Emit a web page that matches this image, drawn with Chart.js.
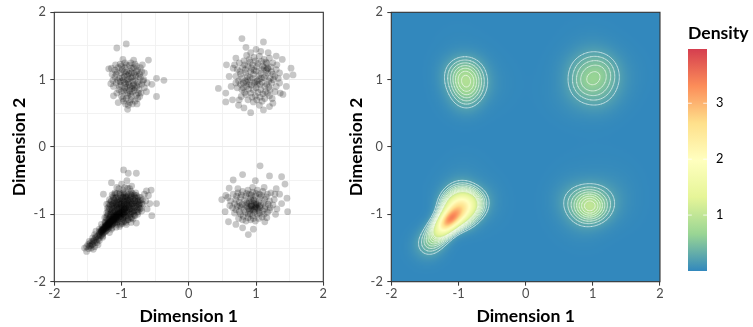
<!DOCTYPE html>
<html><head><meta charset="utf-8">
<script src="https://cdn.jsdelivr.net/npm/chart.js@4.4.1/dist/chart.umd.min.js"></script>
<style>
html,body{margin:0;padding:0;background:#fff;width:753px;height:327px;overflow:hidden}
#c1{position:absolute;left:0;top:0}
#c2{position:absolute;left:337px;top:0}
</style></head><body>
<canvas id="c1" width="337" height="327"></canvas>
<canvas id="c2" width="416" height="327"></canvas>
<script>
// ---------- data ----------
const axisTicks = [-2, -1, 0, 1, 2];
const legendTicks = [1, 2, 3];
const colorLimits = [0, 3.97];
const spectralPalette = ['#3288BD','#99D594','#E6F598','#FFFFBF','#FEE08B','#FC8D59','#D53E4F'];
const contourLevels = [0.22, 0.32, 0.42, 0.52, 0.62, 0.72, 0.82, 0.92, 1.02];

const clusterUL = [[-0.93,1.53],[-1.07,1.47],[-0.60,1.29],[-0.48,1.02],[-0.37,0.99],[-0.48,0.75],[-0.91,0.56],[-0.77,0.64],[-1.12,0.76],[-1.15,1.17],
[-1.09,1.22],[-0.55,0.93],[-0.63,0.82],[-1.19,1.16],[-0.69,1.22],[-0.66,1.10],[-1.05,0.66],[-1.02,1.23],[-0.95,1.25],[-0.88,1.21],
[-0.82,1.18],[-0.76,1.14],[-1.06,1.12],[-0.99,1.15],[-0.92,1.12],[-0.85,1.10],[-0.79,1.06],[-0.72,1.03],[-1.10,1.04],[-1.03,1.02],
[-0.96,1.05],[-0.89,1.01],[-0.83,0.98],[-0.76,0.96],[-0.70,0.93],[-1.08,0.95],[-1.01,0.92],[-0.94,0.94],[-0.87,0.90],[-0.80,0.88],
[-0.74,0.85],[-1.04,0.85],[-0.97,0.83],[-0.91,0.80],[-0.84,0.82],[-0.78,0.77],[-1.00,0.75],[-0.93,0.72],[-0.86,0.70],[-0.80,0.68],
[-0.90,0.62],[-1.12,0.90],[-1.13,0.99],[-0.68,0.98],[-0.73,0.75],[-0.95,1.18],[-0.86,1.25],[-0.80,1.23],[-0.91,1.06],[-0.84,1.04],
[-0.98,0.99],[-0.90,0.96],[-0.82,0.93],[-0.95,0.88],[-0.88,0.84],[-1.05,1.18],[-0.78,1.12],[-0.72,1.18],[-1.14,1.08],[-0.76,0.72],
[-0.97,0.68],[-0.84,0.64],[-0.66,0.88],[-0.73,1.08],
[-1.00,1.20],[-0.93,1.22],[-0.85,1.17],[-0.78,1.20],[-1.08,1.08],[-1.01,1.10],[-0.94,1.08],[-0.87,1.13],[-0.81,1.09],[-0.75,1.05],
[-1.06,0.99],[-0.99,1.03],[-0.92,0.99],[-0.86,1.03],[-0.80,0.99],[-0.74,0.93],[-1.03,0.90],[-0.96,0.96],[-0.89,0.93],[-0.83,0.91],
[-0.77,0.90],[-1.07,0.80],[-1.00,0.82],[-0.94,0.85],[-0.87,0.79],[-0.81,0.84],[-0.75,0.80],[-0.98,0.72],[-0.91,0.76],[-0.85,0.75],
[-0.88,0.66],[-0.94,0.64],[-1.10,1.14],[-0.70,1.12],[-0.67,1.00],[-1.16,0.94],[-0.82,1.29],[-0.98,1.30],[-0.62,0.95],[-0.71,0.80],
[-0.89,1.09],[-0.96,1.12],[-0.84,0.87],[-0.92,0.89],[-1.02,0.97]];

const clusterUR = [[0.79,1.61],[1.11,1.56],[1.00,1.45],[0.85,1.48],[0.56,1.22],[0.66,1.17],[0.44,0.87],[0.55,0.67],[0.55,0.80],[0.65,0.70],
[0.74,0.62],[0.92,0.51],[1.11,0.55],[1.20,0.60],[1.25,0.65],[1.36,0.80],[1.40,0.78],[1.55,1.07],[1.52,1.17],[1.39,1.30],
[1.45,1.05],[1.30,1.35],[0.70,1.32],[0.60,1.05],[1.35,0.95],[0.82,0.58],[1.05,0.62],[1.45,0.90],
[0.75,1.25],[0.82,1.28],[0.90,1.30],[0.97,1.33],[1.05,1.35],[1.12,1.30],[1.20,1.32],[1.25,1.25],[0.72,1.15],[0.80,1.18],
[0.88,1.20],[0.95,1.22],[1.03,1.24],[1.10,1.20],[1.17,1.17],[1.23,1.12],[1.30,1.15],[0.70,1.05],[0.77,1.08],[0.85,1.10],
[0.92,1.12],[1.00,1.13],[1.07,1.10],[1.14,1.06],[1.21,1.02],[1.28,1.05],[0.74,0.98],[0.81,0.95],[0.88,1.00],[0.95,1.02],
[1.02,0.98],[1.09,0.96],[1.16,0.93],[1.23,0.95],[1.30,0.90],[0.72,0.88],[0.79,0.85],[0.86,0.90],[0.93,0.92],[1.00,0.88],
[1.07,0.85],[1.14,0.82],[1.21,0.85],[0.78,0.75],[0.85,0.78],[0.92,0.80],[0.99,0.76],[1.06,0.74],[1.13,0.72],[1.20,0.76],
[0.88,0.70],[0.96,0.67],[1.28,0.82],[1.18,1.40],[0.92,1.40],[1.15,1.14],[1.18,1.16],[0.86,0.96],[0.90,0.93],[1.02,0.93],
[0.97,0.95],[1.08,1.02],[1.12,1.18],
[0.83,1.22],[0.91,1.26],[0.99,1.28],[1.08,1.27],[1.16,1.24],[1.22,1.19],[0.76,1.12],[0.84,1.15],[0.93,1.17],[1.01,1.19],
[1.09,1.15],[1.17,1.10],[1.25,1.08],[0.79,1.02],[0.87,1.05],[0.96,1.08],[1.04,1.06],[1.12,1.03],[1.19,0.98],[1.26,1.00],
[0.77,0.93],[0.84,0.98],[0.91,1.03],[0.99,0.97],[1.06,0.93],[1.13,0.90],[1.19,0.89],[0.81,0.88],[0.89,0.86],[0.96,0.85],
[1.03,0.81],[1.10,0.79],[1.17,0.80],[0.83,0.81],[0.94,0.74],[1.01,0.70],[1.09,0.68],[0.70,0.95],[1.33,1.02],[1.31,1.22],
[0.68,1.22],[1.07,1.42],[0.86,1.36],[1.24,0.72],[0.75,0.70],[1.35,1.10],[0.63,0.90],[1.15,1.26],[0.97,1.14],[1.05,1.01]];

const clusterLR = [[1.06,-0.28],[0.80,-0.41],[0.66,-0.49],[1.20,-0.43],[1.38,-0.44],[1.43,-0.55],[0.60,-0.61],[0.49,-0.78],[0.59,-1.11],[0.885,-1.30],
[0.96,-1.22],[1.13,-1.11],[1.46,-0.76],[1.47,-0.96],[1.38,-0.84],[1.29,-1.00],[0.54,-0.96],[0.99,-0.50],[1.30,-0.62],[0.55,-0.72],
[0.70,-1.15],[0.80,-1.20],[1.22,-0.68],[1.35,-0.70],
[0.66,-0.70],[0.73,-0.68],[0.80,-0.66],[0.88,-0.64],[0.95,-0.67],[1.02,-0.64],[1.10,-0.66],[1.17,-0.70],[0.62,-0.80],[0.70,-0.78],
[0.77,-0.75],[0.85,-0.73],[0.92,-0.76],[0.99,-0.73],[1.06,-0.75],[1.13,-0.78],[1.20,-0.80],[1.27,-0.78],[0.65,-0.90],[0.72,-0.88],
[0.79,-0.85],[0.86,-0.83],[0.93,-0.86],[1.00,-0.83],[1.07,-0.86],[1.14,-0.88],[1.21,-0.90],[0.68,-0.98],[0.75,-0.96],[0.82,-0.93],
[0.89,-0.91],[0.96,-0.94],[1.03,-0.91],[1.10,-0.95],[1.17,-0.97],[0.74,-1.06],[0.81,-1.03],[0.88,-1.00],[0.95,-1.02],[1.02,-1.00],
[1.09,-1.04],[0.85,-1.10],[0.92,-1.08],[0.99,-1.10],[0.93,-0.80],[0.97,-0.88],[1.04,-0.95],[0.90,-0.95],[0.96,-0.78],[1.01,-0.90],
[0.87,-0.89],[0.76,-0.87],[0.90,-0.70],[1.05,-0.70],[0.94,-0.88],[0.98,-0.92],[1.00,-0.86],[0.92,-0.92],[1.05,-0.88],[0.97,-0.84],
[0.71,-0.73],[0.78,-0.71],[0.86,-0.69],[0.93,-0.71],[1.00,-0.69],[1.08,-0.72],[1.15,-0.74],[0.68,-0.84],[0.75,-0.82],[0.83,-0.79],
[0.90,-0.81],[0.97,-0.79],[1.04,-0.81],[1.11,-0.83],[1.18,-0.85],[1.25,-0.86],[0.70,-0.93],[0.78,-0.90],[0.85,-0.87],[0.92,-0.88],
[0.99,-0.89],[1.06,-0.90],[1.13,-0.92],[1.20,-0.94],[0.77,-1.00],[0.84,-0.97],[0.91,-0.99],[0.98,-0.97],[1.05,-0.98],[1.12,-1.00],
[0.80,-1.08],[0.88,-1.05],[0.96,-1.06],[1.04,-1.06],[0.61,-0.87],[1.31,-0.92],[1.28,-0.70],[0.58,-0.75],[1.16,-1.05],[0.73,-0.62],
[0.95,-0.60],[1.12,-0.60],[0.94,-0.93],[1.02,-0.85],[0.88,-0.84]];

const clusterLL = [[-1.55,-1.50],[-1.52,-1.48],[-1.50,-1.45],[-1.49,-1.51],[-1.47,-1.43],[-1.46,-1.47],[-1.44,-1.40],[-1.43,-1.44],[-1.41,-1.38],[-1.40,-1.42],
[-1.39,-1.35],[-1.38,-1.39],[-1.36,-1.33],[-1.35,-1.37],[-1.34,-1.30],[-1.33,-1.35],[-1.32,-1.28],[-1.31,-1.32],[-1.30,-1.26],[-1.29,-1.30],
[-1.28,-1.24],[-1.27,-1.28],[-1.26,-1.22],[-1.25,-1.26],[-1.24,-1.20],[-1.23,-1.24],[-1.22,-1.18],[-1.21,-1.22],[-1.20,-1.16],[-1.19,-1.20],
[-1.18,-1.14],[-1.17,-1.18],[-1.16,-1.12],[-1.15,-1.16],[-1.14,-1.10],[-1.13,-1.14],[-1.12,-1.08],[-1.11,-1.12],[-1.10,-1.06],[-1.09,-1.10],
[-1.08,-1.04],[-1.07,-1.08],[-1.06,-1.02],[-1.05,-1.06],[-1.04,-1.00],[-1.03,-1.04],[-1.02,-0.98],[-1.01,-1.02],[-1.00,-0.96],[-0.99,-1.00],
[-0.98,-0.94],[-0.97,-0.98],[-0.96,-0.92],[-0.95,-0.96],[-0.94,-0.90],[-0.93,-0.94],[-0.92,-0.88],
[-1.12,-1.06],[-1.10,-1.04],[-1.08,-1.02],[-1.06,-1.00],[-1.04,-0.98],[-1.13,-1.09],[-1.11,-1.07],[-1.09,-1.05],[-1.07,-1.03],[-1.05,-1.01],
[-1.03,-0.99],[-1.15,-1.10],[-1.17,-1.12],[-1.19,-1.15],[-1.21,-1.16],[-1.23,-1.19],[-1.02,-1.00],[-1.00,-0.98],[-0.98,-0.97],
[-1.25,-1.05],[-1.20,-1.00],[-1.18,-0.92],[-1.22,-0.85],[-1.27,-0.70],[-1.15,-0.80],[-1.12,-0.88],[-1.10,-0.95],[-1.08,-0.85],[-1.05,-0.78],
[-1.03,-0.90],[-1.00,-0.85],[-0.98,-0.75],[-0.97,-0.88],[-0.95,-0.80],[-0.93,-0.70],[-0.92,-0.85],[-0.90,-0.78],[-0.88,-0.92],[-0.86,-0.82],
[-0.85,-0.72],[-0.83,-0.88],[-0.82,-0.95],[-0.80,-0.80],[-0.79,-0.68],[-0.77,-0.90],[-0.76,-1.00],[-0.74,-0.85],[-0.72,-0.75],[-0.70,-0.95],
[-0.68,-0.85],[-0.66,-0.70],[-0.63,-0.65],[-0.56,-0.64],[-0.58,-0.84],[-0.48,-0.84],[-0.55,-1.02],[-0.62,-0.92],[-0.78,-1.13],[-0.85,-1.05],
[-0.90,-1.08],[-0.95,-1.10],[-1.00,-1.12],[-1.07,-1.15],[-1.15,-1.22],[-1.28,-1.32],[-1.35,-1.45],[-1.42,-1.52],[-1.48,-1.40],[-1.40,-1.30],
[-1.33,-1.22],[-1.30,-1.15],[-1.38,-1.25],[-1.43,-1.35],[-1.52,-1.55],[-1.45,-1.50],[-0.97,-0.34],[-0.90,-0.39],[-0.78,-0.39],[-1.15,-0.53],
[-1.07,-0.60],[-1.00,-0.55],[-0.95,-0.60],[-0.88,-0.62],[-1.02,-0.68],[-0.92,-0.50],[-1.10,-0.70],[-0.85,-0.58],[-1.07,-0.89],[-0.98,-1.05],
[-0.94,-1.02],[-0.89,-0.98],[-0.84,-0.96],[-0.80,-1.02],[-0.86,-1.12],[-0.93,-1.15],[-1.03,-1.18],[-1.12,-0.98],[-1.16,-1.02],[-1.20,-1.08],
[-1.24,-1.12],[-1.18,-1.05],[-1.14,-0.95],[-1.06,-0.92],[-1.01,-0.88],[-0.96,-0.84],[-0.91,-0.80],[-0.87,-0.76],[-1.04,-0.82],[-0.99,-0.79],
[-0.94,-0.74],[-1.09,-0.76],[-1.13,-0.84],[-0.89,-0.88],[-0.84,-0.84],[-0.96,-0.92],[-0.92,-0.96],[-1.00,-0.92],[-0.81,-0.74],[-0.75,-0.80],
[-0.73,-0.92],[-0.69,-0.78],[-0.64,-0.80],[-0.60,-0.72],
[-1.04,-0.62],[-0.98,-0.64],[-0.91,-0.61],[-0.86,-0.66],
[-1.14,-0.71],[-1.07,-0.69],[-1.01,-0.72],[-0.96,-0.70],[-0.90,-0.71],[-0.84,-0.69],[-0.78,-0.72],
[-1.18,-0.78],[-1.12,-0.76],[-1.06,-0.79],[-1.00,-0.77],[-0.95,-0.76],[-0.89,-0.79],[-0.83,-0.77],[-0.77,-0.76],[-0.72,-0.79],
[-1.19,-0.84],[-1.14,-0.86],[-1.09,-0.83],[-1.04,-0.85],[-0.99,-0.83],[-0.94,-0.86],[-0.89,-0.83],[-0.84,-0.85],[-0.79,-0.83],[-0.74,-0.86],[-0.70,-0.84],
[-1.21,-0.91],[-1.16,-0.93],[-1.11,-0.90],[-1.06,-0.92],[-1.01,-0.90],[-0.96,-0.93],[-0.91,-0.90],[-0.86,-0.92],[-0.81,-0.90],[-0.76,-0.93],[-0.71,-0.91],
[-1.22,-0.98],[-1.17,-1.00],[-1.12,-0.97],[-1.07,-0.99],[-1.02,-0.97],[-0.97,-1.00],[-0.92,-0.98],[-0.87,-1.00],[-0.82,-0.98],[-0.77,-0.97],
[-1.23,-1.05],[-1.18,-1.07],[-1.13,-1.04],[-1.08,-1.06],[-1.03,-1.04],[-0.98,-1.07],[-0.93,-1.05],[-0.88,-1.04],[-0.83,-1.07],
[-1.25,-1.12],[-1.20,-1.14],[-1.15,-1.11],[-1.10,-1.13],[-1.05,-1.11],[-0.99,-1.14],[-0.94,-1.12],
[-1.29,-1.19],[-1.24,-1.21],[-1.19,-1.18],[-1.14,-1.20],[-1.08,-1.19],
[-1.33,-1.26],[-1.28,-1.28],[-1.23,-1.25],[-1.18,-1.27],
[-1.38,-1.33],[-1.33,-1.31],[-1.28,-1.34],[-1.42,-1.40],[-1.37,-1.42],[-1.33,-1.39],[-1.48,-1.47],[-1.44,-1.45],[-1.40,-1.48],
[-1.24,-1.17],[-1.22,-1.15],[-1.20,-1.13],[-1.18,-1.11],[-1.16,-1.09],[-1.14,-1.07],[-1.12,-1.05],[-1.10,-1.03],[-1.08,-1.01],[-1.06,-0.99],
[-1.21,-1.19],[-1.19,-1.17],[-1.17,-1.15],[-1.15,-1.13],[-1.13,-1.11],[-1.11,-1.09],[-1.09,-1.07],[-1.07,-1.05],
[-1.28,-1.22],[-1.26,-1.20],[-1.30,-1.24],[-1.27,-1.23],
[-1.31,-1.25],[-1.29,-1.23],[-1.27,-1.21],[-1.25,-1.19],[-1.23,-1.17],[-1.21,-1.15],[-1.19,-1.13],[-1.17,-1.11],[-1.15,-1.09],[-1.13,-1.07],
[-1.30,-1.26],[-1.28,-1.24],[-1.26,-1.22],[-1.24,-1.18],[-1.22,-1.16],[-1.20,-1.15],[-1.18,-1.13],[-1.16,-1.10],[-1.14,-1.08],[-1.12,-1.07],
[-1.10,-0.68],[-1.03,-0.70],[-0.97,-0.68],[-0.93,-0.73],[-0.87,-0.70],[-0.81,-0.71],
[-1.13,-0.74],[-1.08,-0.75],[-1.03,-0.76],[-0.98,-0.74],[-0.92,-0.75],[-0.86,-0.74],[-0.80,-0.76],[-0.75,-0.74],
[-1.16,-0.81],[-1.11,-0.79],[-1.06,-0.81],[-1.01,-0.80],[-0.96,-0.81],[-0.91,-0.79],[-0.86,-0.80],[-0.81,-0.80],[-0.76,-0.81],
[-1.17,-0.86],[-1.12,-0.84],[-1.07,-0.86],[-1.02,-0.84],[-0.97,-0.85],[-0.92,-0.84],[-0.87,-0.86],[-0.82,-0.84],[-0.77,-0.85],[-0.73,-0.83],
[-1.19,-0.89],[-1.14,-0.91],[-1.09,-0.88],[-1.04,-0.91],[-0.99,-0.89],[-0.94,-0.91],[-0.89,-0.89],[-0.84,-0.91],[-0.79,-0.88],[-0.74,-0.90],
[-1.20,-0.95],[-1.15,-0.97],[-1.10,-0.94],[-1.05,-0.96],[-1.00,-0.94],[-0.95,-0.97],[-0.90,-0.94],[-0.85,-0.96],[-0.80,-0.94],[-0.75,-0.96],
[-1.21,-1.02],[-1.16,-0.99],[-1.11,-1.01],[-1.06,-0.98],[-1.01,-1.03],[-0.96,-1.01],[-0.91,-1.02],[-0.86,-0.99],[-0.81,-1.01],
[-1.22,-1.08],[-1.17,-1.05],[-1.12,-1.03],[-1.06,-1.08],[-1.01,-1.06],[-0.96,-1.04],[-0.91,-1.08],[-0.86,-1.06],
[-1.24,-1.14],[-1.19,-1.12],[-1.13,-1.15],[-1.07,-1.12],[-1.02,-1.15],[-0.97,-1.11]];

// ---------- density (adaptive 2-D kernel density estimate of the points) ----------
const allPoints = [].concat(clusterUL, clusterUR, clusterLR, clusterLL);
const N = allPoints.length;
const H0 = 0.12;          // pilot bandwidth
const ADAPT = 0.25;       // sensitivity of the adaptive bandwidth
const kdeScale = 1.6;     // calibration of the density units to the legend
const pilot = allPoints.map(([xi, yi]) => {
  let s = 0;
  for (const [xj, yj] of allPoints) { const d2 = (xi-xj)*(xi-xj) + (yi-yj)*(yi-yj); s += Math.exp(-d2/(2*H0*H0)); }
  return s / (N * 2 * Math.PI * H0 * H0);
});
const gmean = Math.exp(pilot.reduce((a, v) => a + Math.log(v), 0) / N);
const bandwidths = pilot.map(f => H0 * Math.pow(gmean / f, ADAPT));

const STEP = 0.02, NG = 201;
const gridX = [], gridY = [];
for (let i = 0; i < NG; i++) { gridX.push(-2 + i*STEP); gridY.push(-2 + i*STEP); }
const dens = new Float64Array(NG*NG);
allPoints.forEach(([xi, yi], k) => {
  const h = bandwidths[k], r = 4*h, norm = kdeScale/(N*2*Math.PI*h*h);
  const i0 = Math.max(0, Math.floor((xi - r + 2)/STEP)), i1 = Math.min(NG-1, Math.ceil((xi + r + 2)/STEP));
  const j0 = Math.max(0, Math.floor((yi - r + 2)/STEP)), j1 = Math.min(NG-1, Math.ceil((yi + r + 2)/STEP));
  for (let j = j0; j <= j1; j++) {
    const dy = gridY[j] - yi;
    for (let i = i0; i <= i1; i++) {
      const dx = gridX[i] - xi;
      dens[j*NG+i] += norm * Math.exp(-(dx*dx+dy*dy)/(2*h*h));
    }
  }
});

function hexToRgb(h){ return [parseInt(h.slice(1,3),16), parseInt(h.slice(3,5),16), parseInt(h.slice(5,7),16)]; }
const palRgb = spectralPalette.map(hexToRgb);
function colorFor(v){
  let t = (v - colorLimits[0])/(colorLimits[1]-colorLimits[0]);
  t = Math.max(0, Math.min(1, t));
  const p = t*(palRgb.length-1), k = Math.min(palRgb.length-2, Math.floor(p)), f = p - k;
  const a = palRgb[k], b = palRgb[k+1];
  return [a[0]+(b[0]-a[0])*f, a[1]+(b[1]-a[1])*f, a[2]+(b[2]-a[2])*f];
}

const heatCanvas = document.createElement('canvas');
heatCanvas.width = NG; heatCanvas.height = NG;
(function(){
  const hctx = heatCanvas.getContext('2d');
  const img = hctx.createImageData(NG, NG);
  for (let j = 0; j < NG; j++) for (let i = 0; i < NG; i++) {
    const c = colorFor(dens[j*NG+i]);
    const o = ((NG-1-j)*NG + i)*4;
    img.data[o]=c[0]; img.data[o+1]=c[1]; img.data[o+2]=c[2]; img.data[o+3]=255;
  }
  hctx.putImageData(img, 0, 0);
})();

function contourSegments(level){
  const segs = [];
  const tbl = {1:[[3,0]],2:[[0,1]],3:[[3,1]],4:[[1,2]],6:[[0,2]],7:[[3,2]],8:[[2,3]],9:[[0,2]],11:[[1,2]],12:[[1,3]],13:[[0,1]],14:[[3,0]]};
  for (let j = 0; j < NG-1; j++) for (let i = 0; i < NG-1; i++) {
    const v0 = dens[j*NG+i], v1 = dens[j*NG+i+1], v2 = dens[(j+1)*NG+i+1], v3 = dens[(j+1)*NG+i];
    let c = 0;
    if (v0 > level) c |= 1; if (v1 > level) c |= 2; if (v2 > level) c |= 4; if (v3 > level) c |= 8;
    if (c === 0 || c === 15) continue;
    const x0 = gridX[i], x1 = gridX[i+1], y0 = gridY[j], y1 = gridY[j+1];
    const e = k => {
      if (k === 0) { const t = (level-v0)/(v1-v0); return [x0+t*(x1-x0), y0]; }
      if (k === 1) { const t = (level-v1)/(v2-v1); return [x1, y0+t*(y1-y0)]; }
      if (k === 2) { const t = (level-v3)/(v2-v3); return [x0+t*(x1-x0), y1]; }
      const t = (level-v0)/(v3-v0); return [x0, y0+t*(y1-y0)];
    };
    let pairs;
    if (c === 5 || c === 10) {
      const center = (v0+v1+v2+v3)/4 > level;
      if (c === 5) pairs = center ? [[0,1],[2,3]] : [[3,0],[1,2]];
      else pairs = center ? [[3,0],[1,2]] : [[0,1],[2,3]];
    } else pairs = tbl[c];
    for (const [a, b] of pairs) segs.push([e(a), e(b)]);
  }
  return segs;
}
const contours = contourLevels.map(l => contourSegments(l));

// ---------- chart helpers ----------
const FONT = 'Lato, "DejaVu Sans", sans-serif';
const isMajor = v => axisTicks.some(t => Math.abs(t - v) < 1e-9);
function axis(isX, title, showGrid){
  return {
    type: 'linear', min: -2, max: 2,
    afterFit: s => { if (isX) s.height = 45.3; else s.width = 54.3; },
    afterBuildTicks: s => { const t = []; for (let v = -2; v <= 2.0001; v += 0.5) t.push({value: Math.round(v*10)/10}); s.ticks = t; },
    ticks: { autoSkip: false, maxRotation: 0, color: '#4D4D4D', padding: isX ? 0 : 4.5,
      font: { family: FONT, size: 12.8 },
      callback: v => isMajor(v) ? String(v) : '' },
    grid: { display: true, drawTicks: true, tickLength: 4,
      color: c => showGrid ? (c.tick && isMajor(c.tick.value) ? '#EBEBEB' : '#F0F0F0') : 'rgba(0,0,0,0)',
      lineWidth: c => (c.tick && isMajor(c.tick.value)) ? 1.1 : 0.9,
      tickColor: c => (c.tick && isMajor(c.tick.value)) ? '#333333' : 'rgba(0,0,0,0)',
      tickWidth: 1 },
    border: { display: false },
    title: { display: true, text: title, color: '#000000',
      font: { family: FONT, size: 17.6, weight: 'bold' },
      padding: isX ? { top: 0, bottom: 0 } : { top: 8.7, bottom: 0 } }
  };
}
const borderPlugin = {
  id: 'panelBorder',
  afterDatasetsDraw(chart){
    const a = chart.chartArea, ctx = chart.ctx;
    ctx.save(); ctx.strokeStyle = '#333333'; ctx.lineWidth = 1.1;
    ctx.strokeRect(a.left, a.top, a.right - a.left, a.bottom - a.top);
    ctx.restore();
  }
};
const heatPlugin = {
  id: 'heat',
  beforeDatasetsDraw(chart){
    const {ctx, chartArea: a, scales: {x, y}} = chart;
    ctx.save();
    ctx.beginPath(); ctx.rect(a.left, a.top, a.right - a.left, a.bottom - a.top); ctx.clip();
    const hs = STEP/2;
    const L = x.getPixelForValue(gridX[0]-hs), R = x.getPixelForValue(gridX[NG-1]+hs);
    const T = y.getPixelForValue(gridY[NG-1]+hs), B = y.getPixelForValue(gridY[0]-hs);
    ctx.imageSmoothingEnabled = true; ctx.imageSmoothingQuality = 'high';
    ctx.drawImage(heatCanvas, L, T, R - L, B - T);
    ctx.strokeStyle = 'rgba(255,255,255,0.55)'; ctx.lineWidth = 0.7; ctx.lineCap = 'round'; ctx.lineJoin = 'round';
    contours.forEach(segs => {
      ctx.beginPath();
      for (const [p, q] of segs) {
        ctx.moveTo(x.getPixelForValue(p[0]), y.getPixelForValue(p[1]));
        ctx.lineTo(x.getPixelForValue(q[0]), y.getPixelForValue(q[1]));
      }
      ctx.stroke();
    });
    ctx.restore();
  }
};
const legendPlugin = {
  id: 'colorbar',
  afterDraw(chart){
    const ctx = chart.ctx;
    const bx = 351, bw = 19, btop = 49, bbot = 271;
    const vy = v => bbot - (v - colorLimits[0])/(colorLimits[1]-colorLimits[0])*(bbot-btop);
    ctx.save();
    const grad = ctx.createLinearGradient(0, bbot, 0, btop);
    spectralPalette.forEach((c, i) => grad.addColorStop(i/(spectralPalette.length-1), c));
    ctx.fillStyle = grad; ctx.fillRect(bx, btop, bw, bbot - btop);
    ctx.strokeStyle = '#FFFFFF'; ctx.lineWidth = 0.8;
    ctx.font = '12.8px ' + FONT; ctx.fillStyle = '#000000'; ctx.textBaseline = 'middle'; ctx.textAlign = 'left';
    legendTicks.forEach(v => {
      const yy = vy(v);
      ctx.beginPath();
      ctx.moveTo(bx, yy); ctx.lineTo(bx + 3.8, yy);
      ctx.moveTo(bx + bw - 3.8, yy); ctx.lineTo(bx + bw, yy);
      ctx.stroke();
      ctx.fillText(String(v), 379, yy);
    });
    ctx.font = 'bold 17.6px ' + FONT; ctx.textBaseline = 'alphabetic';
    ctx.fillText('Density', 351, 39.3);
    ctx.restore();
  }
};

function draw(){
  const pointDatasets = [clusterUL, clusterUR, clusterLR, clusterLL].map(c => ({
    data: c.map(([x, y]) => ({x, y})),
    backgroundColor: 'rgba(0,0,0,0.22)', borderWidth: 0, pointRadius: 3.4, pointHoverRadius: 3.4
  }));
  new Chart(document.getElementById('c1'), {
    type: 'scatter',
    data: { datasets: pointDatasets },
    options: {
      responsive: false, animation: false, events: [],
      layout: { padding: { left: 0, right: 13.7, top: 12.3, bottom: 0 } },
      plugins: { legend: { display: false }, tooltip: { enabled: false } },
      scales: { x: axis(true, 'Dimension 1', true), y: axis(false, 'Dimension 2', true) }
    },
    plugins: [borderPlugin]
  });
  new Chart(document.getElementById('c2'), {
    type: 'scatter',
    data: { datasets: [{ data: [], pointRadius: 0 }] },
    options: {
      responsive: false, animation: false, events: [],
      layout: { padding: { left: 0, right: 93, top: 12.3, bottom: 0 } },
      plugins: { legend: { display: false }, tooltip: { enabled: false } },
      scales: { x: axis(true, 'Dimension 1', false), y: axis(false, 'Dimension 2', false) }
    },
    plugins: [heatPlugin, borderPlugin, legendPlugin]
  });
}
Promise.all([document.fonts.load('12.8px Lato'), document.fonts.load('bold 17.6px Lato')]).then(draw, draw);
</script>
</body></html>
